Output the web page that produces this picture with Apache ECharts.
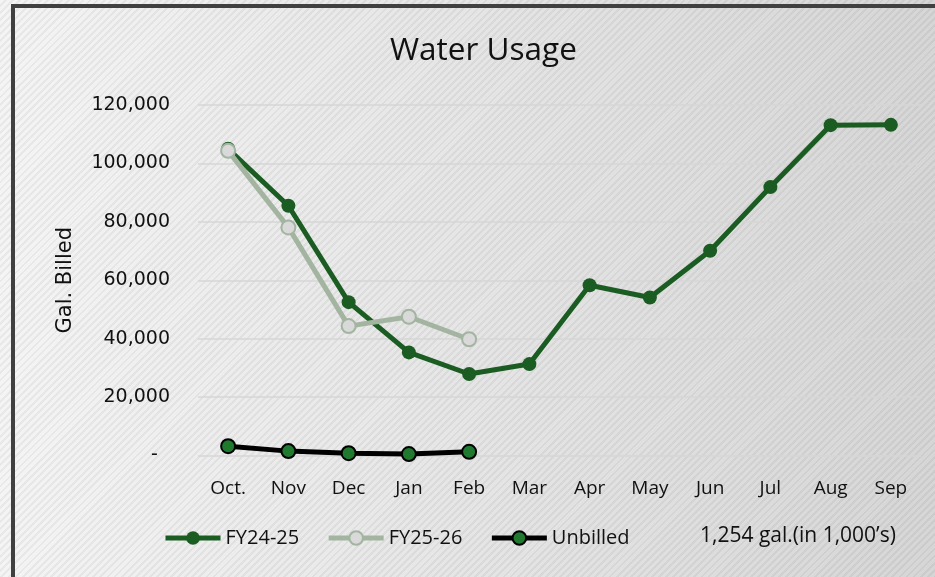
<!DOCTYPE html>
<html>
<head>
<meta charset="utf-8">
<script src="https://cdn.jsdelivr.net/npm/echarts@6/dist/echarts.min.js"></script>
<style>
  html, body { margin: 0; padding: 0; }
  body {
    width: 935px; height: 577px; overflow: hidden; position: relative;
    background:
      repeating-linear-gradient(135deg, rgba(255,255,255,0) 0px, rgba(255,255,255,0) 3px, rgba(0,0,0,0.05) 3px, rgba(0,0,0,0.05) 5px),
      linear-gradient(90deg, #f4f4f4 0%, #e4e4e4 55%, #d6d6d6 100%);
  }
  #frame {
    position: absolute; left: 11px; top: 4px; width: 940px; height: 570px;
    border: 4px solid #404040; pointer-events: none;
  }
  #chart { position: absolute; left: 0; top: 0; width: 935px; height: 577px; }
</style>
</head>
<body>
<div id="frame"></div>
<div id="chart"></div>
<script>
// 月份
var months = ['Oct.', 'Nov', 'Dec', 'Jan', 'Feb', 'Mar', 'Apr', 'May', 'Jun', 'Jul', 'Aug', 'Sep'];
// 各年度用水量 (1,000 gal)
var fy2425 = [105000, 85500, 52500, 35300, 27900, 31300, 58300, 54100, 70100, 91900, 113100, 113200];
var fy2526 = [104300, 78100, 44300, 47500, 39800];
var unbilled = [3200, 1500, 800, 500, 1254];
var yTicks = [0, 20000, 40000, 60000, 80000, 100000, 120000];

var chart = echarts.init(document.getElementById('chart'));

var option = {
    backgroundColor: 'transparent',
    animation: false,
    title: {
        text: 'Water Usage',
        left: 385,
        top: 30,
        textStyle: { fontFamily: 'Open Sans', fontSize: 31.5, fontWeight: 'normal', color: '#111' }
    },
    legend: {
        left: 158,
        top: 523,
        itemWidth: 55,
        itemHeight: 17,
        itemGap: 27,
        textStyle: { fontFamily: 'Open Sans', fontSize: 20, color: '#111' },
        data: [
            { name: 'FY24-25', lineStyle: { width: 5 } },
            { name: 'FY25-26', lineStyle: { width: 5 } },
            { name: 'Unbilled', lineStyle: { width: 5 } }
        ]
    },
    grid: { left: 198, right: 14, top: 105, bottom: 121.5 },
    xAxis: {
        type: 'category',
        data: months,
        boundaryGap: true,
        axisLine: { show: false },
        axisTick: { show: false },
        axisLabel: { margin: 24, fontFamily: 'Open Sans', fontSize: 19, color: '#111' }
    },
    yAxis: {
        type: 'value',
        min: yTicks[0],
        max: yTicks[yTicks.length - 1],
        interval: 20000,
        name: 'Gal. Billed',
        nameLocation: 'middle',
        nameRotate: 90,
        nameGap: 122,
        nameTextStyle: { fontFamily: 'DejaVu Sans', fontSize: 21, color: '#111' },
        axisLine: { show: false },
        axisTick: { show: false },
        splitLine: { lineStyle: { color: '#d6d6d6', width: 1.5 } },
        axisLabel: {
            margin: 28,
            fontFamily: 'DejaVu Sans', fontSize: 19, color: '#111',
            formatter: function (v) {
                return v === 0 ? '-  ' : v.toLocaleString('en-US');
            }
        }
    },
    graphic: [{
        type: 'text',
        left: 700,
        top: 526,
        style: { text: '1,254 gal.(in 1,000\u2019s)', fontFamily: 'Open Sans', fontSize: 21, fill: '#111' }
    }],
    series: [
        {
            name: 'FY24-25',
            type: 'line',
            data: fy2425,
            symbol: 'circle',
            symbolSize: 14,
            lineStyle: { color: '#1a5c22', width: 5 },
            itemStyle: { color: '#1a5c22' }
        },
        {
            name: 'FY25-26',
            type: 'line',
            data: fy2526,
            symbol: 'circle',
            symbolSize: 14,
            lineStyle: { color: '#a3b5a1', width: 5 },
            itemStyle: { color: '#d9d9d9', borderColor: '#a3b5a1', borderWidth: 2 }
        },
        {
            name: 'Unbilled',
            type: 'line',
            data: unbilled,
            symbol: 'circle',
            symbolSize: 14,
            lineStyle: { color: '#000', width: 5 },
            itemStyle: { color: '#1f7a30', borderColor: '#000', borderWidth: 2 }
        }
    ]
};

chart.setOption(option);
</script>
</body>
</html>
